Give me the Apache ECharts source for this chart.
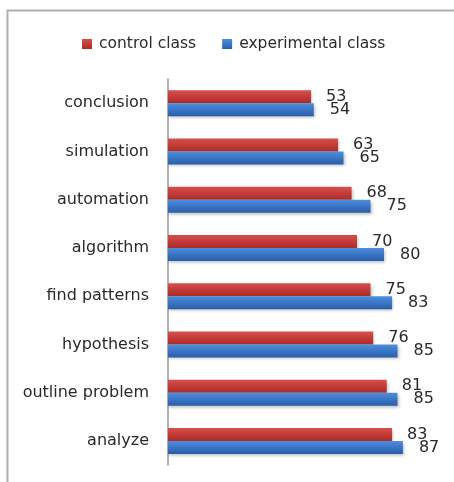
<!DOCTYPE html>
<html>
<head>
<meta charset="utf-8">
<script src="https://cdn.jsdelivr.net/npm/echarts@6/dist/echarts.min.js"></script>
<style>html,body{margin:0;padding:0;background:#fff;}#c{width:454px;height:482px;}</style>
</head>
<body>
<div id="c"></div>
<script>
const categories = ['analyze', 'outline problem', 'hypothesis', 'find patterns', 'algorithm', 'automation', 'simulation', 'conclusion'];
const controlClass = [83, 81, 76, 75, 70, 68, 63, 53];
const experimentalClass = [87, 85, 85, 83, 80, 75, 65, 54];
const seriesNames = ['control class', 'experimental class'];

const chart = echarts.init(document.getElementById('c'), null, {renderer: 'canvas'});
const font = 'DejaVu Sans';
const redGrad = new echarts.graphic.LinearGradient(0, 0, 0, 1, [
  {offset: 0, color: '#d5504d'}, {offset: 0.5, color: '#c43c39'}, {offset: 1, color: '#a92b28'}]);
const blueGrad = new echarts.graphic.LinearGradient(0, 0, 0, 1, [
  {offset: 0, color: '#4f8fdb'}, {offset: 0.5, color: '#3a76c6'}, {offset: 1, color: '#2a5ea8'}]);

chart.setOption({
  animation: false,
  color: ['#c43c39', '#3a76c6'],
  textStyle: {fontFamily: font},
  graphic: [{
    type: 'polyline',
    shape: {points: [[7.5, 490], [7.5, 10.5], [460, 10.5]]},
    style: {stroke: '#b0b0b0', lineWidth: 2, fill: null}
  }],
  legend: {
    top: 31, left: 77,
    itemWidth: 10, itemHeight: 10, itemGap: 26,
    icon: 'rect',
    textStyle: {fontSize: 15.5, color: '#2a2a2a', fontFamily: font, padding: [0, 0, 0, 2]},
    data: seriesNames
  },
  grid: {left: 168, right: 16, top: 79, bottom: 17, containLabel: false},
  xAxis: {
    type: 'value', min: 0, max: 100, show: false
  },
  yAxis: {
    type: 'category', data: categories,
    axisLine: {show: true, lineStyle: {color: '#999', width: 1.5}},
    axisTick: {show: false},
    axisLabel: {fontSize: 16, color: '#2a2a2a', margin: 19, fontFamily: font},
    splitLine: {show: false}
  },
  series: [
    {
      name: seriesNames[0], type: 'bar', data: controlClass,
      barWidth: 13, barGap: '0%',
      itemStyle: {color: redGrad, shadowColor: 'rgba(0,0,0,0.25)', shadowBlur: 3, shadowOffsetY: 2, shadowOffsetX: 1},
      label: {show: true, position: 'right', distance: 15, fontSize: 16, color: '#2a2a2a', fontFamily: font}
    },
    {
      name: seriesNames[1], type: 'bar', data: experimentalClass,
      barWidth: 13, barGap: '0%',
      itemStyle: {color: blueGrad, shadowColor: 'rgba(0,0,0,0.25)', shadowBlur: 3, shadowOffsetY: 2, shadowOffsetX: 1},
      label: {show: true, position: 'right', distance: 16, fontSize: 16, color: '#2a2a2a', fontFamily: font}
    }
  ]
});
</script>
</body>
</html>
